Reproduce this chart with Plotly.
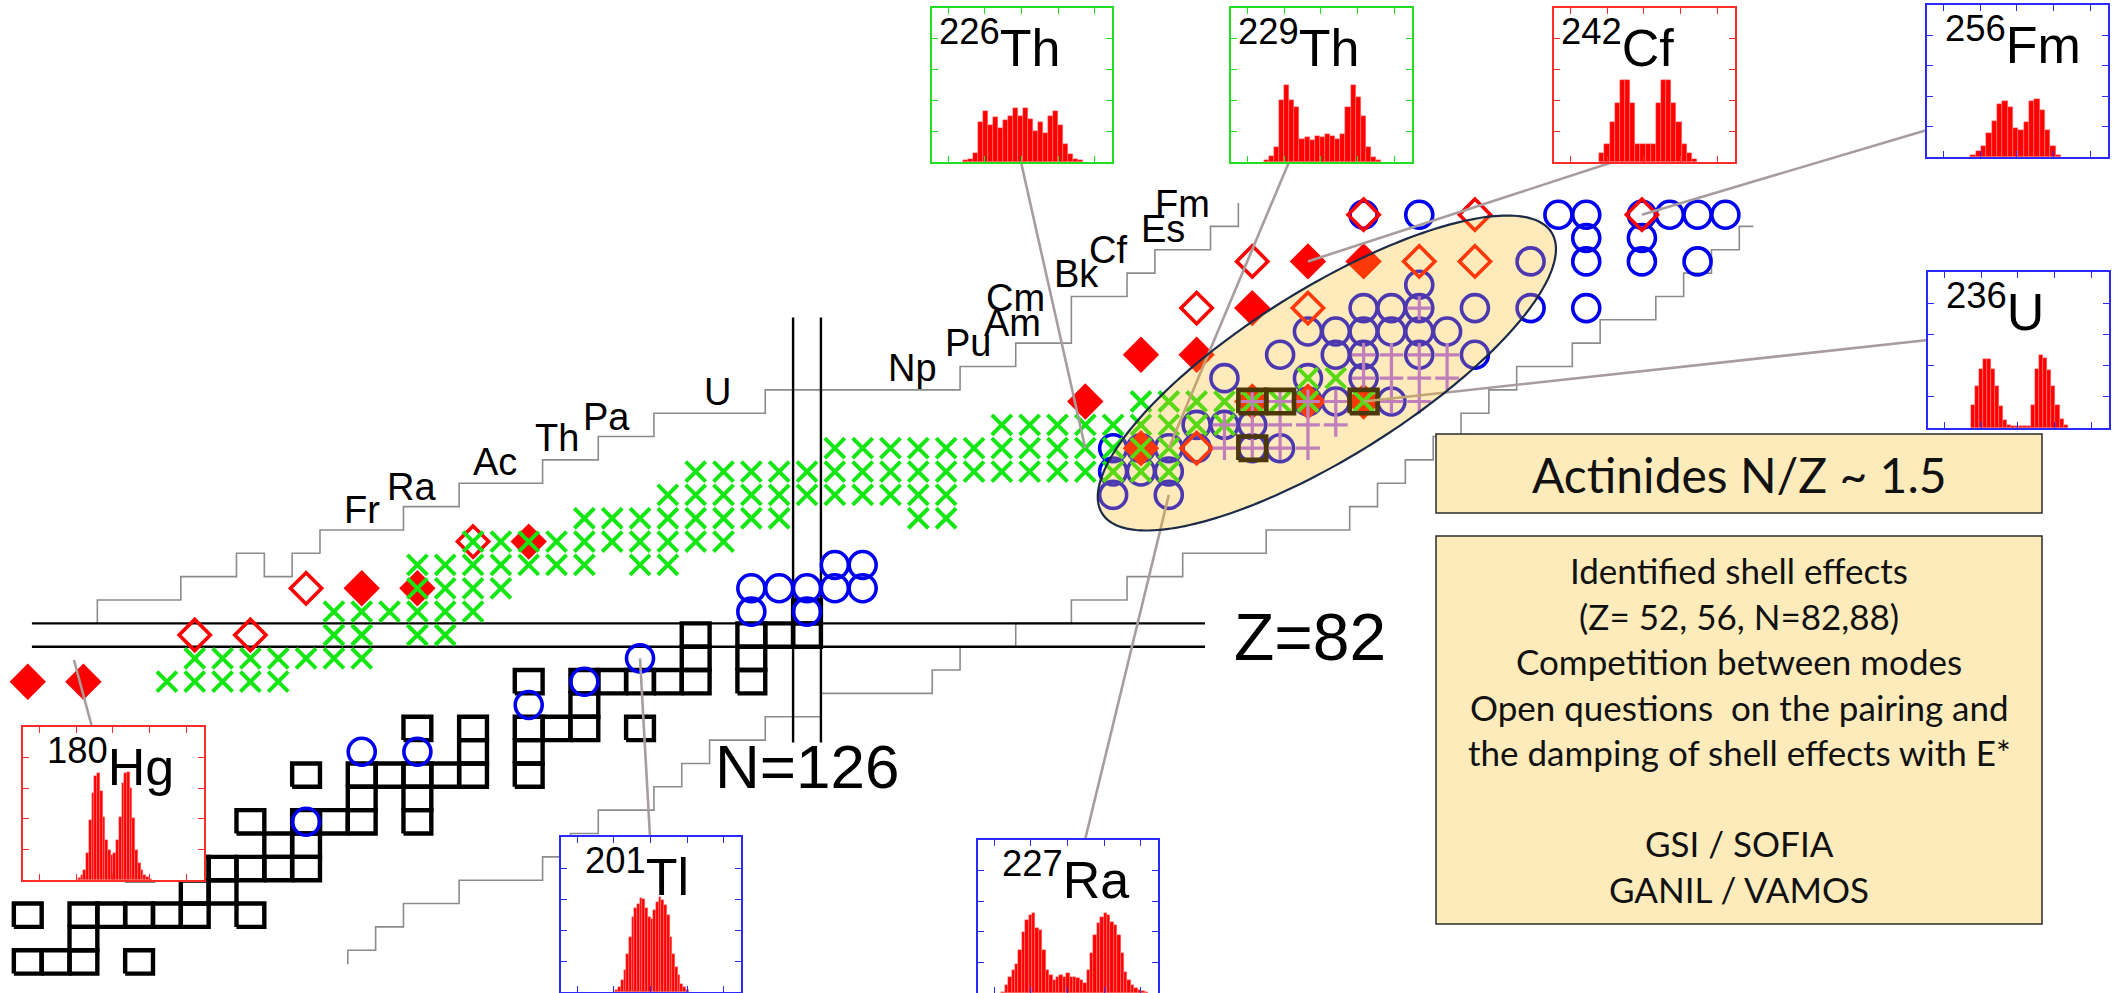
import numpy as np
import plotly.graph_objects as go

W, H = 2118, 993

# ---- grid calibration of the N/Z chart (pixels of the 2118x993 page) ----
N0, X0, DX = 126, 807.0, 27.83   # neutron number N=126 sits at x=807, 27.83 px per neutron
Z0, Y0, DY = 82, 635.0, 23.35    # proton number Z=82 sits at y=635, 23.35 px per proton


def to_n(px):
    return N0 + (px - X0) / DX


def to_z(py):
    return Z0 + (Y0 - py) / DY


# ---- nuclei, rows keyed by Z, values are neutron numbers N ----
squares = {
    68: [98, 99, 100, 102],
    69: [100],
    70: [98, 100, 101, 102, 103, 104, 106],
    71: [104, 105],
    72: [102, 104, 105, 106, 107, 108],
    73: [107, 108],
    74: [106, 108, 109, 110, 112],
    75: [110, 112],
    76: [108, 110, 111, 112, 113, 114, 116],
    77: [114, 116],
    78: [112, 114, 116, 117, 118, 120],
    79: [118],
    80: [116, 118, 119, 120, 121, 122, 124],
    81: [122, 124],
    82: [122, 124, 125, 126],
    83: [126],
    90: [142],
    92: [142, 143, 146],
}

circles = {
    74: [108],
    77: [110, 112],
    79: [116],
    80: [118],
    81: [120],
    83: [124, 126],
    84: [124, 125, 126, 127, 128],
    85: [127, 128],
    88: [137, 139],
    89: [137, 138, 139],
    90: [137, 138, 139, 140, 142, 143],
    91: [140, 141, 142],
    92: [144, 145, 147],
    93: [141, 144, 146],
    94: [143, 145, 146, 148, 150],
    95: [144, 145, 146, 147, 148, 149],
    96: [146, 147, 148, 150, 152, 154],
    97: [148],
    98: [152, 154, 156, 158],
    99: [154, 156],
    100: [146, 148, 153, 154, 156, 157, 158, 159],
}

crosses = {
    80: [103, 104, 105, 106, 107],
    81: [104, 105, 106, 107, 108, 109, 110],
    82: [109, 110, 112, 113],
    83: [109, 110, 111, 112, 113, 114],
    84: [112, 113, 114, 115],
    85: [112, 113, 114, 115, 116, 117, 118, 120, 121],
    86: [114, 115, 116, 117, 118, 119, 120, 121, 122, 123],
    87: [118, 119, 120, 121, 122, 123, 124, 125, 130, 131],
    88: [121, 122, 123, 124, 125, 126, 127, 128, 129, 130, 131],
    89: [122, 123, 124, 125, 126, 127, 128, 129, 130, 131, 132, 133, 134, 135,
         136, 137, 138, 139],
    90: [127, 128, 129, 130, 131, 132, 133, 134, 135, 136, 137, 138, 139],
    91: [133, 134, 135, 136, 137, 138, 139, 140, 141],
    92: [138, 139, 140, 141, 142, 143, 144, 146],
    93: [144, 145],
}

diamonds_full = {
    80: [98, 100],
    84: [110, 112],
    86: [116],
    90: [138],
    92: [136, 142, 144, 146],
    94: [138, 140],
    96: [142],
    98: [144, 146],
}

diamonds_open = {
    82: [104, 106],
    84: [108],
    86: [114],
    90: [140],
    96: [140, 144],
    98: [142, 148, 150],
    100: [146, 150, 156],
}

pluses = {
    90: [141, 142, 143, 144],
    91: [141, 142, 143, 144, 145],
    92: [142, 143, 144, 145, 147, 148],
    93: [146, 147, 148, 149],
    94: [146, 147, 148, 149],
    96: [148],
}

# ---- drip-line staircases (cell edges) ----
upper_n = [100.5, 100.5, 103.5, 103.5, 105.5, 105.5, 106.5, 106.5, 107.5, 107.5,
           108.5, 108.5, 111.5, 111.5, 113.5, 113.5, 116.5, 116.5, 118.5, 118.5,
           120.5, 120.5, 124.5, 124.5, 131.5, 131.5, 133.5, 133.5, 135.5, 135.5,
           137.5, 137.5, 138.5, 138.5, 140.5, 140.5, 141.5, 141.5]
upper_z = [82.5, 83.5, 83.5, 84.5, 84.5, 85.5, 85.5, 84.5, 84.5, 85.5,
           85.5, 86.5, 86.5, 87.5, 87.5, 88.5, 88.5, 89.5, 89.5, 90.5,
           90.5, 91.5, 91.5, 92.5, 92.5, 93.5, 93.5, 94.5, 94.5, 96.5,
           96.5, 97.5, 97.5, 98.5, 98.5, 99.5, 99.5, 100.5]

lower_n = [109.5, 109.5, 110.5, 110.5, 111.5, 111.5, 113.5, 113.5, 116.5, 116.5,
           117.5, 117.5, 118.5, 118.5, 120.5, 120.5, 121.5, 121.5, 122.5, 122.5,
           124.5, 124.5, 126.5, 126.5, 130.5, 130.5, 131.5, 131.5, 133.5, 133.5,
           135.5, 135.5, 137.5, 137.5, 139.5, 139.5, 142.5, 142.5, 145.5, 145.5,
           146.5, 146.5, 147.5, 147.5, 148.5, 148.5, 149.5, 149.5, 150.5, 150.5,
           151.5, 151.5, 153.5, 153.5, 154.5, 154.5, 156.5, 156.5, 157.5, 157.5,
           158.5, 158.5, 159.5, 159.5, 160.0]
lower_z = [67.9, 68.5, 68.5, 69.5, 69.5, 70.5, 70.5, 71.5, 71.5, 72.5,
           72.5, 73.5, 73.5, 74.5, 74.5, 75.5, 75.5, 76.5, 76.5, 77.5,
           77.5, 78.5, 78.5, 79.5, 79.5, 80.5, 80.5, 81.5, 81.5, 82.5,
           82.5, 83.5, 83.5, 84.5, 84.5, 85.5, 85.5, 86.5, 86.5, 87.5,
           87.5, 88.5, 88.5, 89.5, 89.5, 90.5, 90.5, 91.5, 91.5, 92.5,
           92.5, 93.5, 93.5, 94.5, 94.5, 95.5, 95.5, 96.5, 96.5, 97.5,
           97.5, 98.5, 98.5, 99.5, 99.5]

# ---- element labels along the upper staircase (N, Z of text centre) ----
elements = ["Fr", "Ra", "Ac", "Th", "Pa", "U", "Np", "Pu", "Am", "Cm", "Bk", "Cf", "Es", "Fm"]
element_n = [110.0, 111.8, 114.8, 117.0, 118.8, 122.8, 129.8, 131.8, 133.4, 133.5, 135.7, 136.8, 138.8, 139.5]
element_z = [87.35, 88.35, 89.4, 90.45, 91.35, 92.4, 93.45, 94.5, 95.35, 96.45, 97.45, 98.5, 99.4, 100.45]

# ---- fission-fragment histograms (relative heights) ----
hist_th226 = [0.01, 0.02, 0.06, 0.26, 0.33, 0.24, 0.29, 0.22, 0.27, 0.30, 0.35, 0.30,
              0.35, 0.28, 0.20, 0.26, 0.19, 0.30, 0.33, 0.24, 0.12, 0.05, 0.02, 0.01]
hist_th229 = [0.01, 0.04, 0.10, 0.40, 0.50, 0.40, 0.36, 0.15, 0.16, 0.14, 0.17, 0.16,
              0.18, 0.17, 0.15, 0.18, 0.36, 0.50, 0.42, 0.30, 0.10, 0.03, 0.01]
hist_cf242 = [0.06, 0.12, 0.26, 0.38, 0.53, 0.53, 0.38, 0.12, 0.12, 0.12, 0.12, 0.38,
              0.53, 0.53, 0.38, 0.26, 0.12, 0.06, 0.02]
hist_fm256 = [0.01, 0.04, 0.07, 0.16, 0.24, 0.35, 0.37, 0.33, 0.19, 0.18, 0.23, 0.37,
              0.38, 0.31, 0.18, 0.07, 0.01]
hist_u236 = [0.15, 0.27, 0.38, 0.44, 0.44, 0.38, 0.27, 0.14, 0.05, 0.02, 0.01, 0.01,
             0.01, 0.01, 0.01, 0.15, 0.38, 0.47, 0.45, 0.37, 0.27, 0.15, 0.06, 0.02]
hist_hg180 = [0.011, 0.033, 0.066, 0.175, 0.393, 0.568, 0.677, 0.699, 0.579, 0.415,
              0.262, 0.197, 0.164, 0.175, 0.262, 0.415, 0.633, 0.699, 0.703, 0.600,
              0.404, 0.197, 0.109, 0.066, 0.033, 0.017, 0.007]
hist_tl201 = [0.011, 0.032, 0.075, 0.140, 0.247, 0.355, 0.484, 0.544, 0.570, 0.609,
              0.602, 0.544, 0.484, 0.473, 0.527, 0.581, 0.613, 0.591, 0.559, 0.495,
              0.355, 0.247, 0.161, 0.108, 0.054, 0.032, 0.011]
hist_ra227 = [0.009, 0.052, 0.107, 0.150, 0.190, 0.283, 0.401, 0.477, 0.510, 0.521,
              0.423, 0.410, 0.283, 0.150, 0.118, 0.085, 0.107, 0.118, 0.107, 0.128,
              0.102, 0.107, 0.096, 0.085, 0.063, 0.150, 0.259, 0.379, 0.455, 0.499,
              0.521, 0.510, 0.466, 0.444, 0.379, 0.259, 0.139, 0.085, 0.052, 0.030,
              0.020, 0.011, 0.004]

# inset boxes: mass, symbol, histogram, box (left, top, right, bottom) px, colour,
# bar span as fraction of box width, label offset (px), connector anchor on box (px),
# target nucleus (N, Z)
GREEN, RED, BLUE = "#22DD22", "#FF2A2A", "#2A2AFF"
insets = [
    ("226", "Th", hist_th226, (932, 8, 1112, 162), GREEN, (0.17, 0.84), 5, (1021, 162), (136, 90)),
    ("229", "Th", hist_th229, (1231, 8, 1412, 162), GREEN, (0.18, 0.83), 5, (1289, 162), (139, 90)),
    ("242", "Cf", hist_cf242, (1554, 8, 1735, 162), RED, (0.25, 0.79), 5, (1613, 162), (144, 98)),
    ("256", "Fm", hist_fm256, (1927, 5, 2108, 157), BLUE, (0.24, 0.74), 16, (1927, 130), (156, 100)),
    ("236", "U", hist_u236, (1928, 272, 2109, 428), BLUE, (0.237, 0.771), 16, (1928, 340), (146, 92)),
    ("180", "Hg", hist_hg180, (23, 727, 204, 880), RED, (0.304, 0.71), 22, (92, 727), (99.66, 80.93)),
    ("201", "Tl", hist_tl201, (561, 837, 741, 992), BLUE, (0.302, 0.709), 22, (650, 837), (120, 81)),
    ("227", "Ra", hist_ra227, (978, 840, 1158, 993), BLUE, (0.13, 0.944), 22, (1085, 840), (139, 88)),
]


def rows_to_xy(rows):
    xs, ys = [], []
    for z, ns in rows.items():
        for n in ns:
            xs.append(n)
            ys.append(z)
    return xs, ys


fig = go.Figure()


def line_trace(xs, ys, color, width, **kw):
    fig.add_trace(go.Scatter(x=xs, y=ys, mode="lines", line=dict(color=color, width=width),
                             hoverinfo="skip", showlegend=False, **kw))


def square_outlines(rows, keep):
    sx, sy = [], []
    for z, ns in rows.items():
        if not keep(z):
            continue
        for n in ns:
            sx += [n - 0.5, n + 0.5, n + 0.5, n - 0.5, n - 0.5, None]
            sy += [z - 0.5, z - 0.5, z + 0.5, z + 0.5, z - 0.5, None]
    return sx, sy


# staircases
line_trace(upper_n, upper_z, "#8C8C8C", 1.6)
line_trace(lower_n, lower_z, "#8C8C8C", 1.6)

# magic-number guide lines
line_trace([98.15, 140.3, None, 98.15, 140.3], [81.5, 81.5, None, 82.5, 82.5], "black", 2.4)
line_trace([125.5, 125.5, None, 126.5, 126.5], [77.4, 95.6, None, 77.4, 95.6], "black", 2.4)

# open squares (pre-actinide region) as cell outlines
sq_x, sq_y = square_outlines(squares, lambda z: z < 88)
line_trace(sq_x, sq_y, "black", 4.4)


def marker_trace(rows, symbol, size, color, lw):
    xs, ys = rows_to_xy(rows)
    fig.add_trace(go.Scatter(
        x=xs, y=ys, mode="markers", hoverinfo="skip", showlegend=False,
        marker=dict(symbol=symbol, size=size, color=color,
                    line=dict(color=color, width=lw))))


marker_trace(circles, "circle-open", 27, "#0000F0", 3.6)
marker_trace(diamonds_full, "diamond", 28, "#FF0000", 0)
marker_trace(diamonds_open, "diamond-open", 24, "#FF0000", 3.6)
marker_trace(crosses, "x-thin", 20, "#14E614", 4.0)
marker_trace(pluses, "cross-thin", 17, "#A766FF", 3.2)

# actinide squares framed on top of the other symbols
sq_x, sq_y = square_outlines(squares, lambda z: z >= 88)
line_trace(sq_x, sq_y, "black", 4.6)

# connectors from the insets to their nuclei
con_x, con_y = [], []
for ins in insets:
    anchor, target = ins[7], ins[8]
    con_x += [to_n(anchor[0]), target[0], None]
    con_y += [to_z(anchor[1]), target[1], None]
line_trace(con_x, con_y, "#A89C9C", 2.6)

# ---- inset histograms, one small subplot each ----
layout_axes = {}
for k, (mass, sym, hist, box, col, span, _, _, _) in enumerate(insets, start=2):
    x0, y0, x1, y1 = box
    nb = len(hist)
    units = nb / (span[1] - span[0])
    lo = -0.5 - span[0] * units
    hi = lo + units
    xt = [lo + f * units for f in (0.09, 0.293, 0.496, 0.70, 0.904)]
    # white backing so the chart beneath the inset is hidden
    fig.add_trace(go.Bar(x=[(lo + hi) / 2], y=[1], width=[hi - lo], xaxis=f"x{k}", yaxis=f"y{k}",
                         marker=dict(color="white", line=dict(width=0)),
                         hoverinfo="skip", showlegend=False))
    fig.add_trace(go.Bar(x=list(range(nb)), y=hist, width=1.0, xaxis=f"x{k}", yaxis=f"y{k}",
                         marker=dict(color="#FF0000",
                                     line=dict(color="rgba(255,150,150,0.8)", width=0.5)),
                         hoverinfo="skip", showlegend=False))
    common = dict(showline=True, mirror="ticks", linecolor=col, linewidth=1.6,
                  ticks="inside", ticklen=6, tickwidth=1.4, tickcolor=col,
                  showticklabels=False, showgrid=False, zeroline=False, fixedrange=True)
    layout_axes[f"xaxis{k}"] = dict(domain=[x0 / W, x1 / W], anchor=f"y{k}",
                                    range=[lo, hi], tickmode="array", tickvals=xt, **common)
    layout_axes[f"yaxis{k}"] = dict(domain=[1 - y1 / H, 1 - y0 / H], anchor=f"x{k}",
                                    range=[0, 1], tickmode="array",
                                    tickvals=[0.2, 0.4, 0.6, 0.8], **common)

# ---- shaded actinide region ----
ell_c = (144.68, 93.22)                     # centre (N, Z)
ell_a, ell_b, ell_tilt = 265.0, 84.0, 32.0  # semi-axes (px) and tilt (deg)
cxp, cyp = X0 + (ell_c[0] - N0) * DX, Y0 - (ell_c[1] - Z0) * DY
t = np.linspace(0, 2 * np.pi, 241)
th = np.radians(ell_tilt)
ex = cxp + ell_a * np.cos(t) * np.cos(th) - ell_b * np.sin(t) * np.sin(th)
ey = cyp - (ell_a * np.cos(t) * np.sin(th) + ell_b * np.sin(t) * np.cos(th))
ell_path = "M " + " L ".join(f"{to_n(a):.4f},{to_z(b):.4f}" for a, b in zip(ex, ey)) + " Z"

shapes = [
    dict(type="path", path=ell_path, xref="x", yref="y", layer="above",
         fillcolor="rgba(252,185,27,0.30)", line=dict(color="#1C2B48", width=2.2)),
    dict(type="rect", xref="paper", yref="paper", layer="above",
         x0=1436 / W, x1=2042 / W, y0=1 - 513 / H, y1=1 - 434 / H,
         fillcolor="#FEEBBB", line=dict(color="#2B2B2B", width=1.5)),
    dict(type="rect", xref="paper", yref="paper", layer="above",
         x0=1436 / W, x1=2042 / W, y0=1 - 924 / H, y1=1 - 536 / H,
         fillcolor="#FEEBBB", line=dict(color="#2B2B2B", width=1.5)),
]

LABEL_FONT = "Liberation Sans, Arial, sans-serif"
annotations = []
for el, n, z in zip(elements, element_n, element_z):
    annotations.append(dict(x=n, y=z, xref="x", yref="y", text=el, showarrow=False,
                            xanchor="center", yanchor="middle",
                            font=dict(family=LABEL_FONT, size=38, color="black")))

annotations.append(dict(x=to_n(1310), y=to_z(637), xref="x", yref="y", text="Z=82",
                        showarrow=False, xanchor="center", yanchor="middle",
                        font=dict(family=LABEL_FONT, size=66, color="black")))
annotations.append(dict(x=to_n(807), y=to_z(766), xref="x", yref="y", text="N=126",
                        showarrow=False, xanchor="center", yanchor="middle",
                        font=dict(family=LABEL_FONT, size=62, color="black")))

for mass, sym, _, box, _, _, dx_lab, _, _ in insets:
    annotations.append(dict(x=(box[0] + dx_lab) / W, y=1 - (box[1] + 1) / H, xref="paper",
                            yref="paper", xanchor="left", yanchor="top",
                            text=f"<sup>{mass}</sup>{sym}", showarrow=False,
                            font=dict(family=LABEL_FONT, size=52, color="black")))

BOX_FONT = "Lato, Open Sans, sans-serif"
annotations.append(dict(x=1739 / W, y=1 - 474 / H, xref="paper", yref="paper",
                        xanchor="center", yanchor="middle",
                        text="Actinides N/Z ~ 1.5", showarrow=False,
                        font=dict(family=BOX_FONT, size=48, color="#111111")))
box_lines = ["Identified shell effects", "(Z= 52, 56, N=82,88)", "Competition between modes",
             "Open questions  on the pairing and", "the damping of shell effects with E*",
             "GSI / SOFIA", "GANIL / VAMOS"]
box_line_y = [570, 616, 661, 707, 752, 843, 889]
for txt, yy in zip(box_lines, box_line_y):
    annotations.append(dict(x=1739 / W, y=1 - yy / H, xref="paper", yref="paper",
                            xanchor="center", yanchor="middle",
                            text=txt.replace("  ", "&nbsp; "), showarrow=False,
                            font=dict(family=BOX_FONT, size=35, color="#111111")))

fig.update_layout(
    width=W, height=H, autosize=False,
    margin=dict(l=0, r=0, t=0, b=0, pad=0),
    paper_bgcolor="white", plot_bgcolor="white",
    showlegend=False, bargap=0, barmode="overlay",
    xaxis=dict(range=[to_n(0), to_n(W)], domain=[0, 1], visible=False, fixedrange=True),
    yaxis=dict(range=[to_z(H), to_z(0)], domain=[0, 1], visible=False, fixedrange=True),
    shapes=shapes, annotations=annotations,
    **layout_axes,
)

fig.write_html("out.html", config={"displayModeBar": False})
